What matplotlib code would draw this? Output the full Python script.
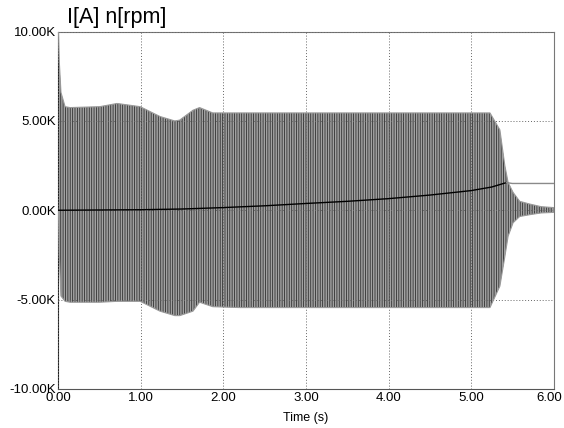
import numpy as np
import matplotlib
matplotlib.use("Agg")
import matplotlib.pyplot as plt
import matplotlib.transforms as mtransforms

plt.rcParams['font.family'] = ['Liberation Sans', 'DejaVu Sans']
plt.rcParams['hatch.linewidth'] = 0.6

# current envelope (kA)
t_env = [0.0, 0.01, 0.03, 0.08, 0.14, 0.5, 0.71, 0.99, 1.23, 1.41, 1.47, 1.63, 1.71, 1.87,
         2.2, 3.0, 4.0, 5.0, 5.23, 5.35, 5.41, 5.45, 5.51, 5.59, 5.71, 5.85, 6.0]
i_upper = [10.0, 8.3, 6.6, 5.8, 5.75, 5.8, 5.98, 5.8, 5.25, 5.0, 5.05, 5.6, 5.75, 5.45,
           5.45, 5.45, 5.45, 5.45, 5.45, 4.5, 2.5, 1.55, 1.0, 0.5, 0.35, 0.2, 0.15]
i_lower = [0.0, -2.5, -4.8, -5.1, -5.15, -5.15, -5.1, -5.1, -5.65, -5.9, -5.9, -5.65, -5.15, -5.4,
           -5.45, -5.45, -5.45, -5.45, -5.45, -4.25, -2.6, -1.45, -0.7, -0.35, -0.25, -0.15, -0.12]

# speed (krpm)
t_speed = [0.0, 1.0, 1.5, 2.0, 2.5, 3.0, 3.5, 4.0, 4.5, 5.0, 5.25, 5.43]
n_speed = [0.0, 0.03, 0.07, 0.15, 0.25, 0.38, 0.5, 0.65, 0.85, 1.1, 1.3, 1.55]
t_speed_end = [5.43, 5.5, 6.0]
n_speed_end = [1.55, 1.5, 1.5]

xticks = [0, 1, 2, 3, 4, 5, 6]
yticks = [-10, -5, 0, 5, 10]

fig = plt.figure(figsize=(5.64, 4.28), dpi=100)
ax = fig.add_axes([0.1037, 0.0915, 0.8777, 0.8345])

ax.fill_between(t_env, i_lower, i_upper, facecolor='#a2a2a2', edgecolor='#303030',
                hatch='|' * 7, linewidth=0, zorder=2)
ax.plot(t_env, i_upper, color='#9a9a9a', lw=0.8, zorder=3)
ax.plot(t_env, i_lower, color='#9a9a9a', lw=0.8, zorder=3)
ax.plot(t_speed, n_speed, color='black', lw=1.0, zorder=4)
ax.plot(t_speed_end, n_speed_end, color='#8a8a8a', lw=1.0, zorder=4)

ax.set_xlim(0, 6)
ax.set_ylim(-10, 10)
ax.set_xticks(xticks)
ax.set_xticklabels(['%.2f' % x for x in xticks])
ax.set_yticks(yticks)
ax.set_yticklabels(['%.2fK' % y for y in yticks])
ax.tick_params(length=0, pad=2, labelsize=9.5)
# last x label sits a little left so it stays inside the figure
last = ax.get_xticklabels()[-1]
last.set_transform(last.get_transform() + mtransforms.ScaledTranslation(-4 / 100, 0, fig.dpi_scale_trans))
ax.grid(True, color='#666666', linestyle=(0, (1, 2)), linewidth=0.7, zorder=5)
ax.set_axisbelow(False)
for s in ax.spines.values():
    s.set_color('#777777')
ax.spines['left'].set_color('#222222')
ax.spines['bottom'].set_color('#555555')

ax.set_xlabel('Time (s)', fontsize=9, labelpad=6)
fig.text(0.119, 0.935, 'I[A] n[rpm]', fontsize=15.5, ha='left', va='bottom')

fig.savefig('out.png', dpi=100)
